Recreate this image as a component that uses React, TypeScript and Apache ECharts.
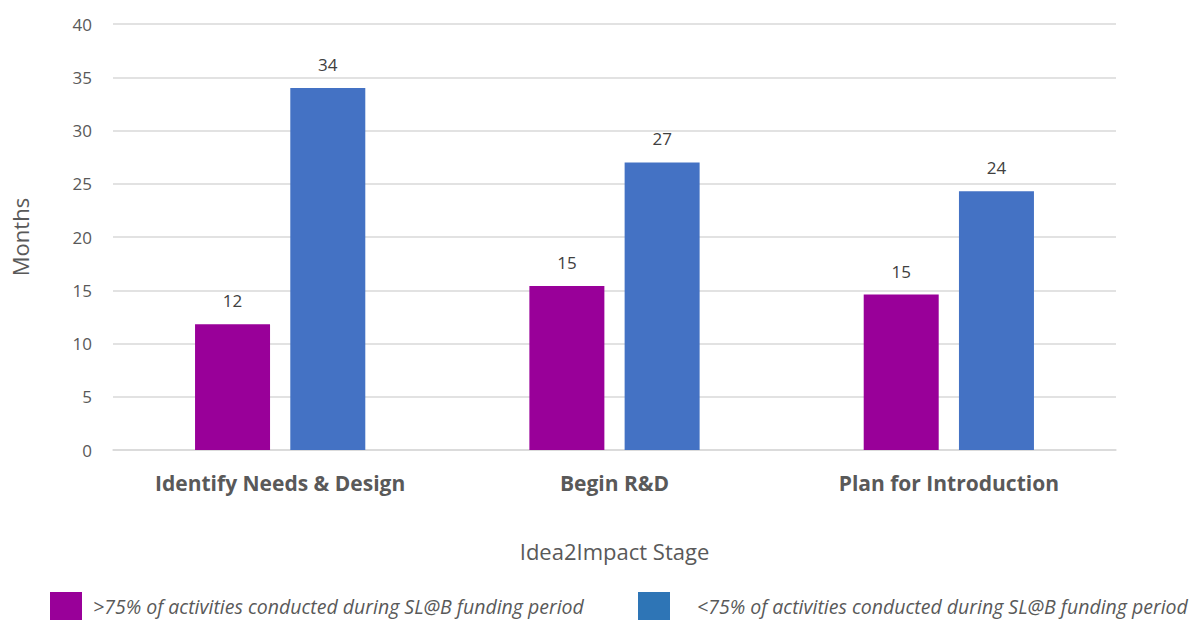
import React, { useEffect, useRef } from "react";
import * as echarts from "echarts";

const categories = ["Identify Needs & Design", "Begin R&D", "Plan for Introduction"];
const seriesAbove = [11.8, 15.4, 14.6];
const seriesBelow = [34.0, 27.0, 24.3];
const seriesNames = [
  ">75% of activities conducted during SL@B funding period",
  "<75% of activities conducted during SL@B funding period",
];

const FONT = "'Open Sans', 'Noto Sans', sans-serif";

export default function App() {
  const ref = useRef<HTMLDivElement>(null);
  useEffect(() => {
    if (!ref.current) return;
    const chart = echarts.init(ref.current, null, { renderer: "svg" });
    const labelCfg = {
      show: true,
      position: "top",
      distance: 15,
      fontSize: 17,
      color: "#404040",
      fontFamily: FONT,
      formatter: (p: any) => String(Math.round(p.value)),
    };
    const legendText = (padLeft: number) => ({
      fontSize: 19.5,
      fontStyle: "italic",
      color: "#595959",
      fontFamily: FONT,
      padding: [0, 0, 0, padLeft],
    });
    chart.setOption({
      animation: false,
      textStyle: { fontFamily: FONT },
      grid: { left: 113, right: 81, top: 24, bottom: 171 },
      legend: [
        {
          left: 50,
          top: 592,
          padding: 0,
          itemWidth: 32,
          itemHeight: 28,
          itemGap: 0,
          icon: "rect",
          data: [{ name: seriesNames[0], itemStyle: { color: "#990099" } }],
          textStyle: legendText(6),
        },
        {
          left: 638,
          top: 592,
          padding: 0,
          itemWidth: 32,
          itemHeight: 28,
          itemGap: 0,
          icon: "rect",
          data: [{ name: seriesNames[1], itemStyle: { color: "#2E75B6" } }],
          textStyle: legendText(22),
        },
      ],
      xAxis: {
        type: "category",
        data: categories,
        name: "Idea2Impact Stage",
        nameLocation: "middle",
        nameGap: 90,
        nameTextStyle: { fontSize: 22, color: "#595959", fontFamily: FONT },
        axisLine: { lineStyle: { color: "#d9d9d9", width: 1.5 } },
        axisTick: { show: false },
        axisLabel: { fontSize: 21, fontWeight: "bold", color: "#595959", margin: 22, fontFamily: FONT },
      },
      yAxis: {
        type: "value",
        min: 0,
        max: 40,
        interval: 5,
        name: "Months",
        nameLocation: "middle",
        nameGap: 82,
        nameTextStyle: { fontSize: 22, color: "#595959", fontFamily: FONT },
        axisLine: { show: false },
        axisTick: { show: false },
        axisLabel: { fontSize: 17, color: "#595959", margin: 21, fontFamily: FONT },
        splitLine: { lineStyle: { color: "#d9d9d9", width: 1.5 } },
      },
      series: [
        {
          name: seriesNames[0],
          type: "bar",
          data: seriesAbove,
          barWidth: 75,
          barGap: "27%",
          itemStyle: { color: "#990099" },
          label: labelCfg,
        },
        {
          name: seriesNames[1],
          type: "bar",
          data: seriesBelow,
          barWidth: 75,
          barGap: "27%",
          itemStyle: { color: "#4472C4" },
          label: labelCfg,
        },
      ],
    });
    return () => chart.dispose();
  }, []);
  return (
    <div
      ref={ref}
      style={{ position: "fixed", left: 0, top: 0, width: 1197, height: 621, background: "#fff" }}
    />
  );
}
